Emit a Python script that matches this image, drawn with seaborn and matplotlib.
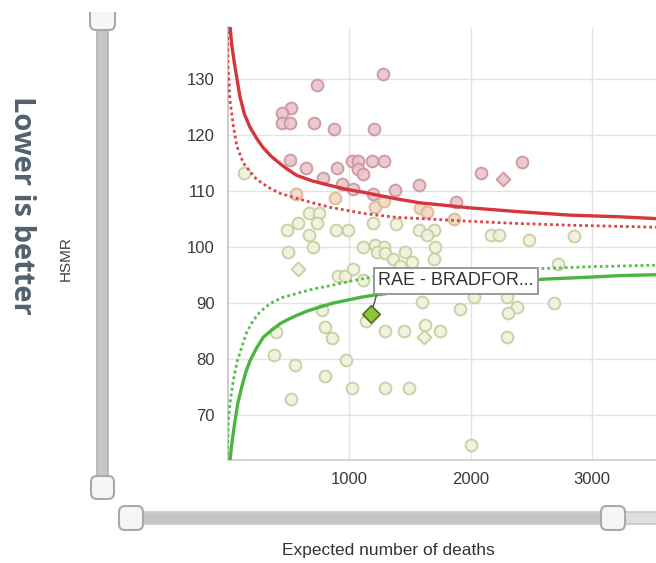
import numpy as np
import pandas as pd
import matplotlib
matplotlib.use("Agg")
import matplotlib.pyplot as plt
import seaborn as sns
from matplotlib.patches import FancyBboxPatch, Rectangle

# ---------------- data ----------------
circle_expected = [1283, 738, 526, 449, 449, 518, 713, 879, 1209, 518, 645, 903, 1022, 1077,
                   1187, 1284, 1077, 1118, 788, 939, 1036, 1380, 1573, 1201, 2421, 2088, 1881,
                   562, 884, 1215, 1587, 1645, 1290,
                   132, 672, 755, 581, 738, 490, 672, 893, 994, 1201, 1386, 1573, 705, 498,
                   1118, 1215, 1289, 1229, 1298, 1463, 1366, 1518, 1421, 912, 967, 1036, 1118,
                   1862, 2165, 2234, 2482, 2848, 1697, 1642, 1711, 1697, 2722, 2027, 2297,
                   2386, 2308, 2684, 1912, 1600, 774, 802, 857, 402, 383, 559, 802, 973, 1027,
                   521, 1138, 1298, 1449, 1298, 1490, 1628, 1752, 2297, 2000, 1900]
circle_hsmr = [130.8, 128.9, 124.8, 123.9, 122.1, 122.1, 122.1, 121.0, 121.0, 115.4, 114.1, 114.1,
               115.2, 115.2, 115.2, 115.2, 113.9, 113.0, 112.3, 111.1, 110.3, 110.1, 111.0, 109.4,
               115.1, 113.1, 108.0,
               109.3, 108.6, 107.0, 106.9, 106.1, 108.2,
               113.2, 105.9, 105.9, 104.2, 104.2, 102.9, 102.1, 102.9, 102.9, 104.2, 104.1, 102.9,
               100.0, 99.0, 99.9, 100.2, 99.9, 99.0, 98.8, 99.0, 97.8, 97.2, 96.6, 94.8, 94.8, 96.0,
               94.1, 105.0, 102.0, 102.0, 101.1, 101.8, 102.9, 102.0, 99.9, 97.8, 96.9, 90.9, 90.9,
               89.2, 88.1, 89.9, 88.9, 90.1, 88.7, 85.7, 83.7, 84.7, 80.7, 78.9, 76.8, 79.8, 74.8,
               72.7, 86.7, 84.9, 84.9, 74.8, 74.8, 85.9, 84.9, 83.8, 64.5, 93.5]
diamond_expected = [581, 1614, 2270]
diamond_hsmr = [96.0, 83.8, 112.1]
highlight_label = "RAE - BRADFOR..."
highlight_expected = [1182]
highlight_hsmr = [87.9]

upper998_expected = [20, 35, 62, 103, 140, 185, 240, 292, 360, 432, 500, 570, 700, 844, 980, 1115,
                     1250, 1393, 1584, 1996, 2407, 2819, 3230, 3600]
upper998_hsmr = [139.5, 136.0, 132.0, 126.7, 123.6, 121.3, 119.3, 117.7, 116.1, 114.8, 113.7, 112.7,
                 111.7, 110.9, 110.2, 109.7, 109.1, 108.5, 107.8, 106.9, 106.2, 105.6, 105.3, 104.9]
upper95_expected = [0, 5, 21, 48, 76, 130, 185, 240, 300, 350, 432, 570, 700, 844, 1118, 1393, 1667,
                    1996, 2407, 2819, 3230, 3600]
upper95_hsmr = [139.5, 132.0, 126.0, 121.5, 118.0, 114.9, 113.4, 112.0, 111.1, 110.4, 109.5, 108.6,
                107.8, 107.0, 105.9, 105.2, 104.9, 104.5, 104.1, 103.8, 103.6, 103.4]
lower95_expected = [0, 7, 25, 48, 80, 117, 160, 212, 270, 350, 450, 570, 700, 844, 1008, 1200, 1600,
                    2000, 2627, 3000, 3600]
lower95_hsmr = [61.8, 68.9, 72.8, 76.1, 79.5, 82.0, 84.8, 86.8, 88.4, 89.8, 90.9, 91.6, 92.4, 93.0,
                93.8, 94.6, 95.2, 95.6, 96.1, 96.4, 96.7]
lower998_expected = [21, 30, 40, 62, 85, 117, 150, 185, 240, 295, 360, 432, 500, 570, 660, 761, 870,
                     981, 1090, 1200, 1600, 2000, 2627, 2956, 3230, 3600]
lower998_hsmr = [61.8, 63.8, 65.5, 68.9, 72.0, 74.9, 77.5, 79.6, 81.9, 83.8, 85.0, 86.2, 87.0, 87.7,
                 88.5, 89.2, 89.9, 90.4, 90.9, 91.3, 92.4, 93.2, 94.2, 94.5, 94.8, 95.0]

y_ticks = [70, 80, 90, 100, 110, 120, 130]
x_ticks = [1000, 2000, 3000]
x_label = "Expected number of deaths"
y_label = "HSMR"
side_note = "Lower is better"

# ---------------- styling ----------------
sns.set_theme(style="white")
plt.rcParams["font.family"] = ["Liberation Sans", "DejaVu Sans"]

W, H = 656, 563
fig = plt.figure(figsize=(W / 100, H / 100), dpi=100)
fig.patch.set_facecolor("white")

ax_l, ax_b, ax_t = 227.5, 460, 27
ax = fig.add_axes([ax_l / W, (H - ax_b) / H, (W - ax_l) / W, (ax_b - ax_t) / H])


def status(e, h):
    up_hi = np.interp(e, upper998_expected, upper998_hsmr)
    up_lo = np.interp(e, upper95_expected, upper95_hsmr)
    if h > up_hi:
        return "high"
    if h > up_lo:
        return "warn"
    return "normal"


styles = {"high": ("#ecc3cb", "#c9969f"),
          "warn": ("#f3d9c2", "#dab698"),
          "normal": ("#f0f2dc", "#c7cd9f")}

pts = pd.DataFrame({"expected": circle_expected, "hsmr": circle_hsmr})
pts["status"] = [status(e, h) for e, h in zip(pts.expected, pts.hsmr)]
dia = pd.DataFrame({"expected": diamond_expected, "hsmr": diamond_hsmr})
dia["status"] = [status(e, h) for e, h in zip(dia.expected, dia.hsmr)]

for st, (fc, ec) in styles.items():
    sub = pts[pts.status == st]
    if len(sub):
        sns.scatterplot(data=sub, x="expected", y="hsmr", ax=ax, color=fc, edgecolor=ec,
                        s=72, linewidth=1.4, marker="o", alpha=0.9, zorder=3, legend=False)
    subd = dia[dia.status == st]
    if len(subd):
        sns.scatterplot(data=subd, x="expected", y="hsmr", ax=ax, color=fc, edgecolor=ec,
                        s=50, linewidth=1.4, marker="D", alpha=0.9, zorder=3, legend=False)

red, green = "#d5363a", "#4bb541"
sns.lineplot(x=upper998_expected, y=upper998_hsmr, ax=ax, color=red, lw=2.4, sort=False,
             estimator=None, zorder=4)
sns.lineplot(x=upper95_expected, y=upper95_hsmr, ax=ax, color="#df4245", lw=2.0, sort=False,
             estimator=None, linestyle=(0, (1, 1.1)), zorder=4)
sns.lineplot(x=lower998_expected, y=lower998_hsmr, ax=ax, color=green, lw=2.4, sort=False,
             estimator=None, zorder=4)
sns.lineplot(x=lower95_expected, y=lower95_hsmr, ax=ax, color="#55bd4a", lw=2.0, sort=False,
             estimator=None, linestyle=(0, (1, 1.1)), zorder=4)

hl = pd.DataFrame({"expected": highlight_expected, "hsmr": highlight_hsmr})
sns.scatterplot(data=hl, x="expected", y="hsmr", ax=ax, color="#8cc63f", edgecolor="#4f6e22",
                s=80, linewidth=1.2, marker="D", zorder=6, legend=False)
ax.annotate(highlight_label, xy=(highlight_expected[0], highlight_hsmr[0]),
            xytext=(5, 24), textcoords="offset points", ha="left", va="center",
            fontsize=13, color="#333333", zorder=10,
            bbox=dict(boxstyle="square,pad=0.25", fc="white", ec="#9a9a9a", lw=1.4),
            arrowprops=dict(arrowstyle="-", color="#555555", lw=1.0, shrinkA=0, shrinkB=6,
                            relpos=(0.0, 0.0)))

ax.set_xlim(0, (W - ax_l) / 0.1215)
ax.set_ylim(100 - (ax_b - 246.5) / 5.6, 100 + (246.5 - ax_t) / 5.6)
ax.set_xticks(x_ticks)
ax.set_yticks(y_ticks)
ax.set_xticklabels([str(v) for v in x_ticks])
ax.set_yticklabels([str(v) for v in y_ticks])
ax.grid(True, color="#e3e3e3", lw=1.0)
ax.set_axisbelow(True)
for s in ("top", "right"):
    ax.spines[s].set_visible(False)
ax.spines["left"].set_color("#c8c8c8")
ax.spines["left"].set_linewidth(1.3)
ax.spines["bottom"].set_color("#d2d2d2")
ax.spines["bottom"].set_linewidth(1.3)
ax.tick_params(axis="y", length=7, width=1, color="#c4c4c4", pad=2, labelsize=12,
               labelcolor="#3a3a3a")
ax.tick_params(axis="x", length=0, pad=9, labelsize=12, labelcolor="#3a3a3a")
ax.set_xlabel("")
ax.set_ylabel("")

# ---------------- overlay (sliders & side labels) in pixel coords ----------------
ov = fig.add_axes([0, 0, 1, 1], zorder=20)
ov.set_xlim(0, W)
ov.set_ylim(H, 0)
ov.axis("off")
ov.patch.set_alpha(0)

track_c, track_e = "#c6c6c6", "#b6b6b6"
handle_f, handle_e = "#f6f6f6", "#a9a9a9"


def rbox(x, y, w, h, fc, ec, r=5, lw=1.3, z=1):
    ov.add_patch(FancyBboxPatch((x, y), w, h, boxstyle=f"round,pad=0,rounding_size={r}",
                                fc=fc, ec=ec, lw=lw, zorder=z))


# vertical slider
rbox(97, 26, 11, 452, track_c, track_e, r=3, z=1)
rbox(90, 0, 25, 30, handle_f, handle_e, r=6, lw=1.5, z=2)
ov.add_patch(Rectangle((80, -5), 45, 17, fc="white", ec="none", zorder=3))
rbox(91, 476, 23, 23, handle_f, handle_e, r=6, lw=1.5, z=2)

# horizontal slider
rbox(128, 512, 560, 12, "#dedede", "#cccccc", r=3, z=1)
ov.add_patch(Rectangle((131, 512.6), 482, 10.8, fc=track_c, ec="none", zorder=1.5))
rbox(119, 506, 24, 24, handle_f, handle_e, r=6, lw=1.5, z=2)
rbox(601, 506, 24, 24, handle_f, handle_e, r=6, lw=1.5, z=2)

ov.text(21, 205, side_note, rotation=-90, ha="center", va="center", fontsize=21,
        fontweight="bold", color="#52616d", family=["Open Sans", "DejaVu Sans"])
ov.text(66, 259, y_label, rotation=90, ha="center", va="center", fontsize=11,
        color="#3c3c46")
ov.text(388, 551, x_label, ha="center", va="center", fontsize=12.5, color="#333333")

fig.savefig("out.png", dpi=100, facecolor="white")
